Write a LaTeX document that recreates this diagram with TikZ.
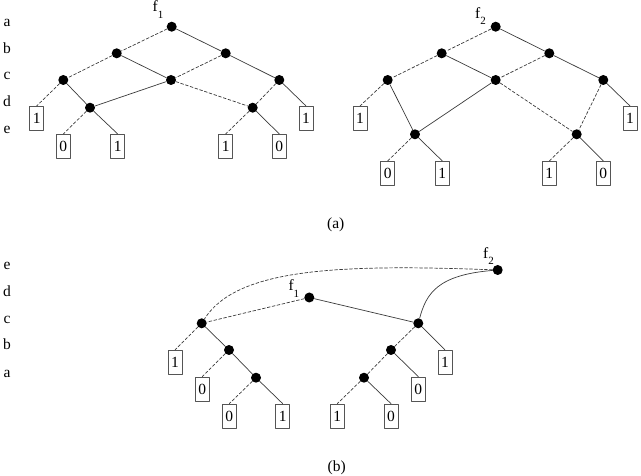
\documentclass[tikz,border=0pt]{standalone}
\usepackage{fontspec}
\setmainfont{Liberation Serif}
\definecolor{edge}{HTML}{3a3a3a}
\definecolor{frame}{HTML}{555555}

\begin{document}
\begin{tikzpicture}[
  x=1pt, y=-1pt,
  line cap=round, line join=round,
  every node/.style={font=\fontsize{15.5}{18}\selectfont, inner sep=1pt},
  vertex/.style={circle, fill=black, minimum size=10pt, inner sep=0pt},
  leaf/.style={draw=frame, line width=0.7pt, minimum width=14pt, minimum height=24pt, inner sep=0pt},
  high/.style={draw=edge, line width=0.7pt},
  low/.style={draw=edge, line width=0.7pt, dash pattern=on 3pt off 2pt},
  var/.style={anchor=base},
  fname/.style={anchor=base west, inner sep=0pt},
]
\useasboundingbox (0,0) rectangle (641,476);
% variable order of (a)
\node[var] (va) at (7,26.7) {a};
\node[var] (vb) at (7,53.3) {b};
\node[var] (vc) at (7,80) {c};
\node[var] (vd) at (7,107) {d};
\node[var] (ve) at (7,134) {e};
% f1 in (a)
\node[vertex] (r1) at (171.7,26.7) {};
\node[vertex] (b1l) at (116.7,53.3) {};
\node[vertex] (b1r) at (225.7,53.3) {};
\node[vertex] (c1l) at (63.3,80) {};
\node[vertex] (c1m) at (171,80) {};
\node[vertex] (c1r) at (279.3,80) {};
\node[vertex] (d1l) at (90,107.7) {};
\node[vertex] (d1r) at (252.7,107.7) {};
\node[leaf] (t1a) at (36.7,118.3) {1};
\node[leaf] (t1b) at (63.3,146.3) {0};
\node[leaf] (t1c) at (117.7,146.3) {1};
\node[leaf] (t1d) at (225.7,146.3) {1};
\node[leaf] (t1e) at (279.3,146.3) {0};
\node[leaf] (t1f) at (306,118.3) {1};
\node[fname] (lf1) at (152.5,11.7) {f\raisebox{-0.42em}{\fontsize{11}{11}\selectfont 1}};
\draw[low] (r1) -- (b1l);
\draw[high] (r1) -- (b1r);
\draw[low] (b1l) -- (c1l);
\draw[high] (b1l) -- (c1m);
\draw[low] (b1r) -- (c1m);
\draw[high] (b1r) -- (c1r);
\draw[low] (c1l) -- (t1a.north);
\draw[high] (c1l) -- (d1l);
\draw[high] (c1m) -- (d1l);
\draw[low] (c1m) -- (d1r);
\draw[low] (c1r) -- (d1r);
\draw[high] (c1r) -- (t1f.north);
\draw[low] (d1l) -- (t1b.north);
\draw[high] (d1l) -- (t1c.north);
\draw[low] (d1r) -- (t1d.north);
\draw[high] (d1r) -- (t1e.north);
% f2 in (a)
\node[vertex] (r2) at (495.7,26.7) {};
\node[vertex] (b2l) at (441.7,53.3) {};
\node[vertex] (b2r) at (549.3,53.3) {};
\node[vertex] (c2l) at (387.7,80) {};
\node[vertex] (c2m) at (495.7,80) {};
\node[vertex] (c2r) at (603.3,80) {};
\node[vertex] (e2l) at (415,134.3) {};
\node[vertex] (e2r) at (576.7,134.3) {};
\node[leaf] (t2a) at (360,118.3) {1};
\node[leaf] (t2b) at (387.7,173.3) {0};
\node[leaf] (t2c) at (442.3,173.3) {1};
\node[leaf] (t2d) at (549.3,173.3) {1};
\node[leaf] (t2e) at (603.3,173.3) {0};
\node[leaf] (t2f) at (630,118.3) {1};
\node[fname] (lf2) at (475,18.3) {f\raisebox{-0.42em}{\fontsize{11}{11}\selectfont 2}};
\draw[low] (r2) -- (b2l);
\draw[high] (r2) -- (b2r);
\draw[low] (b2l) -- (c2l);
\draw[high] (b2l) -- (c2m);
\draw[low] (b2r) -- (c2m);
\draw[high] (b2r) -- (c2r);
\draw[low] (c2l) -- (t2a.north);
\draw[high] (c2l) -- (e2l);
\draw[high] (c2m) -- (e2l);
\draw[low] (c2m) -- (e2r);
\draw[low] (c2r) -- (e2r);
\draw[high] (c2r) -- (t2f.north);
\draw[low] (e2l) -- (t2b.north);
\draw[high] (e2l) -- (t2c.north);
\draw[low] (e2r) -- (t2d.north);
\draw[high] (e2r) -- (t2e.north);
\node (capa) at (335.7,225) {(a)};
% variable order of (b)
\node[var] (we) at (7,270) {e};
\node[var] (wd) at (7,297) {d};
\node[var] (wc) at (7,323.3) {c};
\node[var] (wb) at (7,350) {b};
\node[var] (wa) at (7,377.7) {a};
% shared graph in (b)
\node[vertex] (g2) at (497.7,270) {};
\node[vertex] (g1) at (309.3,297.5) {};
\node[vertex] (cl) at (201.7,323.3) {};
\node[vertex] (cr) at (418.3,323.3) {};
\node[vertex] (bl) at (229,350) {};
\node[vertex] (br) at (391,350) {};
\node[vertex] (al) at (256,377.7) {};
\node[vertex] (ar) at (364,377.7) {};
\node[leaf] (s1) at (175,362.3) {1};
\node[leaf] (s2) at (202.3,389) {0};
\node[leaf] (s3) at (229.3,416) {0};
\node[leaf] (s4) at (282.7,416) {1};
\node[leaf] (s5) at (337.3,416) {1};
\node[leaf] (s6) at (391,416) {0};
\node[leaf] (s7) at (418.3,389) {0};
\node[leaf] (s8) at (445,362.3) {1};
\node[fname] (lg1) at (288.3,290.7) {f\raisebox{-0.42em}{\fontsize{11}{11}\selectfont 1}};
\node[fname] (lg2) at (483,258.3) {f\raisebox{-0.42em}{\fontsize{11}{11}\selectfont 2}};
\draw[low] (g2) .. controls +(-160,-6) and +(35,-55) .. (cl);
\draw[high] (g2) .. controls +(-60,5) and +(8,-30) .. (cr);
\draw[low] (g1) -- (cl);
\draw[high] (g1) -- (cr);
\draw[low] (cl) -- (s1.north);
\draw[high] (cl) -- (bl);
\draw[low] (bl) -- (s2.north);
\draw[high] (bl) -- (al);
\draw[low] (al) -- (s3.north);
\draw[high] (al) -- (s4.north);
\draw[low] (cr) -- (br);
\draw[high] (cr) -- (s8.north);
\draw[low] (br) -- (ar);
\draw[high] (br) -- (s7.north);
\draw[low] (ar) -- (s5.north);
\draw[high] (ar) -- (s6.north);
\node (capb) at (336.7,468) {(b)};
\end{tikzpicture}
\end{document}
